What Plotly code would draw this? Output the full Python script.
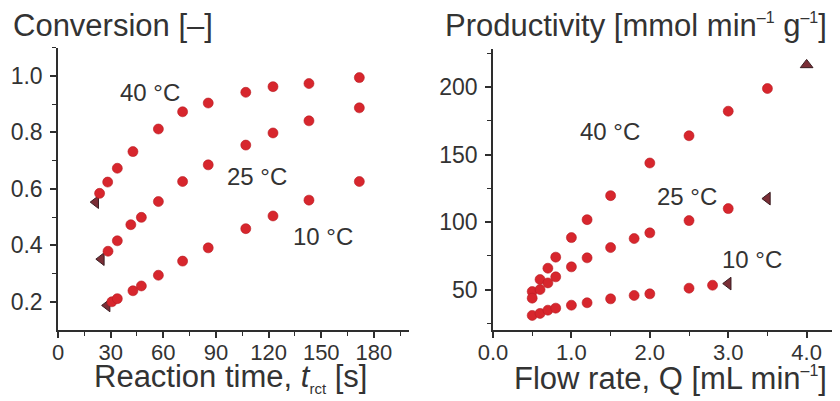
import plotly.graph_objects as go

# ---------------- data ----------------
# Left panel: conversion vs reaction time
t40 = [23.7, 28.3, 33.8, 42.7, 57.2, 71.0, 85.6, 107.0, 122.5, 143.0, 171.7]
c40 = [0.584, 0.624, 0.673, 0.732, 0.812, 0.873, 0.904, 0.942, 0.962, 0.973, 0.994]
t25 = [28.5, 33.8, 41.5, 47.5, 57.2, 71.0, 85.6, 107.0, 122.5, 143.0, 171.7]
c25 = [0.379, 0.416, 0.473, 0.499, 0.555, 0.626, 0.685, 0.755, 0.798, 0.841, 0.887]
t10 = [30.7, 33.8, 42.7, 47.5, 57.2, 71.0, 85.6, 107.0, 122.5, 143.0, 171.7]
c10 = [0.200, 0.211, 0.239, 0.256, 0.294, 0.344, 0.391, 0.459, 0.504, 0.560, 0.626]
t_tri = [21.5, 24.7, 28.0]
c_tri = [0.553, 0.351, 0.187]

# Right panel: productivity vs flow rate
q40 = [0.5, 0.6, 0.7, 0.8, 1.0, 1.2, 1.5, 2.0, 2.5, 3.0, 3.5]
p40 = [48.5, 57.4, 65.8, 74.0, 88.5, 101.8, 119.6, 143.8, 164.0, 182.2, 199.0]
q25 = [0.5, 0.6, 0.7, 0.8, 1.0, 1.2, 1.5, 1.8, 2.0, 2.5, 3.0]
p25 = [43.6, 50.0, 54.9, 59.4, 66.8, 73.5, 81.1, 87.8, 92.0, 101.1, 110.0]
q10 = [0.5, 0.6, 0.7, 0.8, 1.0, 1.2, 1.5, 1.8, 2.0, 2.5, 2.8]
p10 = [30.8, 32.3, 34.7, 36.2, 38.4, 40.2, 43.1, 45.6, 46.8, 51.0, 53.2]
q_tri_up = [4.0]
p_tri_up = [216.5]
q_tri_left = [3.5, 3.0]
p_tri_left = [117.4, 54.4]

temps = ["40 °C", "25 °C", "10 °C"]

# ---------------- styling ----------------
# the page body has an 8 px margin: the figure is drawn 8 px in from the top-left
OFF = 8
WIN_W, WIN_H = 840, 401
W, H = WIN_W - OFF, WIN_H - OFF
RED = "#d7262d"
RED_EDGE = "#b81d24"
TRI = "#7a2e36"
TRI_EDGE = "#3a1e22"
AX = "#2e2e2e"
TXT = "#333333"
FONT = "Liberation Sans, Arial, sans-serif"

def px_x(p):
    return (p - OFF) / W

def px_y(p):
    return (WIN_H - p) / H

def small(s, size):
    return f"<span style='font-size:{size}px'>{s}</span>"

circ = dict(symbol="circle", size=10, color=RED, line=dict(width=0.6, color=RED_EDGE))

fig = go.Figure()

# triangles first (below circles)
fig.add_trace(go.Scatter(x=t_tri, y=c_tri, mode="markers", xaxis="x", yaxis="y",
                         marker=dict(symbol="triangle-left", size=11, color=TRI,
                                     line=dict(width=1, color=TRI_EDGE)), showlegend=False))
for tx, cy in [(t40, c40), (t25, c25), (t10, c10)]:
    fig.add_trace(go.Scatter(x=tx, y=cy, mode="markers", xaxis="x", yaxis="y",
                             marker=circ, showlegend=False))

fig.add_trace(go.Scatter(x=q_tri_up, y=p_tri_up, mode="markers", xaxis="x2", yaxis="y2",
                         marker=dict(symbol="triangle-up", size=11, color=TRI,
                                     line=dict(width=1, color=TRI_EDGE)), showlegend=False))
fig.add_trace(go.Scatter(x=q_tri_left, y=p_tri_left, mode="markers", xaxis="x2", yaxis="y2",
                         marker=dict(symbol="triangle-left", size=11, color=TRI,
                                     line=dict(width=1, color=TRI_EDGE)), showlegend=False))
for qx, py in [(q40, p40), (q25, p25), (q10, p10)]:
    fig.add_trace(go.Scatter(x=qx, y=py, mode="markers", xaxis="x2", yaxis="y2",
                             marker=circ, showlegend=False))

axis_common = dict(showline=True, linecolor=AX, linewidth=1.5, ticks="outside",
                   ticklen=6, tickwidth=1.5, tickcolor=AX, showgrid=False, zeroline=False,
                   mirror=False, automargin=False)

tickfont_x = dict(family=FONT, size=22, color=TXT)
tickfont_y = dict(family=FONT, size=23, color=TXT)

fig.update_layout(
    width=W, height=H,
    margin=dict(l=0, r=0, t=0, b=0, pad=0),
    paper_bgcolor="white", plot_bgcolor="white",
    font=dict(family=FONT, color=TXT),
    xaxis=dict(domain=[px_x(58), px_x(409)], range=[0, 200], anchor="y",
               tickmode="array", tickvals=[0, 30, 60, 90, 120, 150, 180],
               minor=dict(tickvals=[15, 45, 75, 105, 135, 165, 195], ticklen=4,
                          tickcolor=AX, tickwidth=1.2, ticks="outside"),
               tickfont=tickfont_x, ticklabelstandoff=-4, **axis_common),
    yaxis=dict(domain=[px_y(330), px_y(47.7)], range=[0.1, 1.1], anchor="x",
               tickmode="array", tickvals=[0.2, 0.4, 0.6, 0.8, 1.0],
               ticktext=["0.2", "0.4", "0.6", "0.8", "1.0"],
               minor=dict(tickvals=[0.3, 0.5, 0.7, 0.9, 1.1], ticklen=4,
                          tickcolor=AX, tickwidth=1.2, ticks="outside"),
               tickfont=tickfont_y, ticklabelstandoff=3, **axis_common),
    xaxis2=dict(domain=[px_x(493), px_x(838)], range=[0, 4.4], anchor="y2",
                tickmode="array", tickvals=[0, 1, 2, 3, 4],
                ticktext=["0.0", "1.0", "2.0", "3.0", "4.0"],
                minor=dict(tickvals=[0.5, 1.5, 2.5, 3.5], ticklen=4,
                           tickcolor=AX, tickwidth=1.2, ticks="outside"),
                tickfont=tickfont_x, ticklabelstandoff=-4, **axis_common),
    yaxis2=dict(domain=[px_y(330), px_y(49.4)], range=[20, 228], anchor="x2",
                tickmode="array", tickvals=[50, 100, 150, 200],
                minor=dict(tickvals=[25, 75, 125, 175, 225], ticklen=4,
                           tickcolor=AX, tickwidth=1.2, ticks="outside"),
                tickfont=tickfont_y, ticklabelstandoff=3, **axis_common),
)

sup1 = "<sup>" + small("–1", 16) + "</sup>"
ann = []
# panel titles
ann.append(dict(text="Conversion [–]", x=px_x(11), y=px_y(25), xref="paper", yref="paper",
                xanchor="left", yanchor="middle", showarrow=False,
                font=dict(family=FONT, size=31, color=TXT)))
ann.append(dict(text="Productivity [mmol min" + sup1 + " g" + sup1 + "]", x=px_x(443), y=px_y(25),
                xref="paper", yref="paper", xanchor="left", yanchor="middle", showarrow=False,
                font=dict(family=FONT, size=31, color=TXT)))
# axis titles
ann.append(dict(text="Reaction time, <i>t</i><sub>" + small("rct", 15) + "</sub> [s]",
                x=px_x(230), y=px_y(378),
                xref="paper", yref="paper", xanchor="center", yanchor="middle", showarrow=False,
                font=dict(family=FONT, size=31, color=TXT)))
ann.append(dict(text="Flow rate, Q [mL min" + sup1 + "]", x=px_x(670), y=px_y(378),
                xref="paper", yref="paper", xanchor="center", yanchor="middle", showarrow=False,
                font=dict(family=FONT, size=31, color=TXT)))
# temperature labels
for (xx, yy), lab in zip([(52.4, 0.94), (113.3, 0.642), (150.9, 0.431)], temps):
    ann.append(dict(text=lab, x=xx, y=yy, xref="x", yref="y", showarrow=False,
                    xanchor="center", yanchor="middle",
                    font=dict(family=FONT, size=24, color=TXT)))
for (xx, yy), lab in zip([(1.49, 166.9), (2.47, 118.9), (3.30, 72.3)], temps):
    ann.append(dict(text=lab, x=xx, y=yy, xref="x2", yref="y2", showarrow=False,
                    xanchor="center", yanchor="middle",
                    font=dict(family=FONT, size=24, color=TXT)))
fig.update_layout(annotations=ann)

fig.write_html("out.html")
